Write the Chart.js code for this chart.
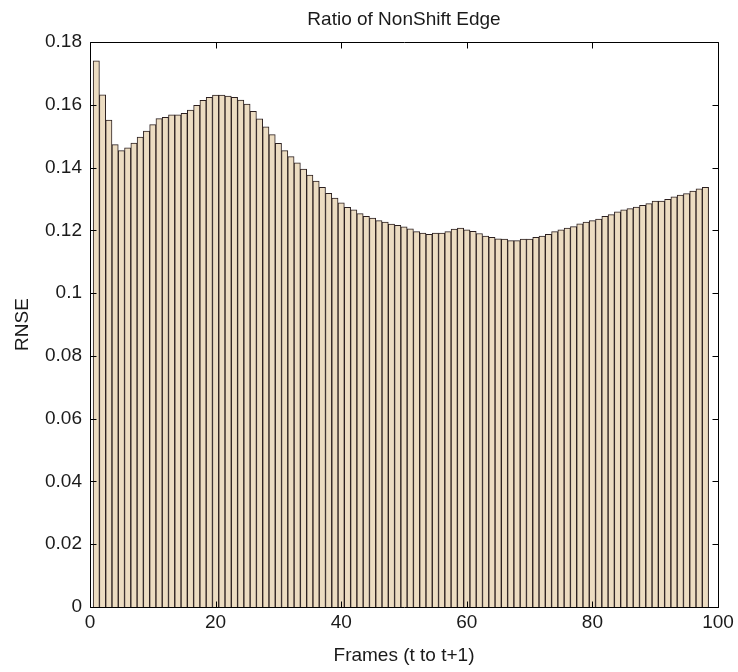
<!DOCTYPE html>
<html>
<head>
<meta charset="utf-8">
<script src="https://cdn.jsdelivr.net/npm/chart.js@4/dist/chart.umd.min.js"></script>
<style>
  html, body { margin: 0; padding: 0; background: #ffffff; }
  #c { display: block; }
</style>
</head>
<body>
<canvas id="c" width="738" height="672"></canvas>
<script>
const chartTitle = 'Ratio of NonShift Edge';
const xAxisTitle = 'Frames (t to t+1)';
const yAxisTitle = 'RNSE';

const frames = [
  1, 2, 3, 4, 5, 6, 7, 8, 9, 10,
  11, 12, 13, 14, 15, 16, 17, 18, 19, 20,
  21, 22, 23, 24, 25, 26, 27, 28, 29, 30,
  31, 32, 33, 34, 35, 36, 37, 38, 39, 40,
  41, 42, 43, 44, 45, 46, 47, 48, 49, 50,
  51, 52, 53, 54, 55, 56, 57, 58, 59, 60,
  61, 62, 63, 64, 65, 66, 67, 68, 69, 70,
  71, 72, 73, 74, 75, 76, 77, 78, 79, 80,
  81, 82, 83, 84, 85, 86, 87, 88, 89, 90,
  91, 92, 93, 94, 95, 96, 97, 98
];

const rnse = [
  0.1740, 0.1632, 0.1551, 0.1473, 0.1454, 0.1463, 0.1478, 0.1497, 0.1516, 0.1537,
  0.1556, 0.1560, 0.1568, 0.1568, 0.1573, 0.1583, 0.1598, 0.1614, 0.1624, 0.1631,
  0.1631, 0.1628, 0.1624, 0.1615, 0.1602, 0.1579, 0.1555, 0.1530, 0.1505, 0.1477,
  0.1454, 0.1435, 0.1415, 0.1395, 0.1376, 0.1357, 0.1337, 0.1318, 0.1303, 0.1288,
  0.1273, 0.1265, 0.1253, 0.1245, 0.1239, 0.1231, 0.1226, 0.1220, 0.1216, 0.1211,
  0.1205, 0.1196, 0.1191, 0.1187, 0.1191, 0.1191, 0.1196, 0.1204, 0.1207, 0.1202,
  0.1197, 0.1190, 0.1182, 0.1178, 0.1173, 0.1172, 0.1167, 0.1167, 0.1172, 0.1172,
  0.1178, 0.1182, 0.1187, 0.1196, 0.1202, 0.1207, 0.1212, 0.1221, 0.1226, 0.1231,
  0.1236, 0.1245, 0.1250, 0.1259, 0.1265, 0.1269, 0.1274, 0.1280, 0.1285, 0.1293,
  0.1293, 0.1299, 0.1307, 0.1312, 0.1317, 0.1325, 0.1332, 0.1337
];

const xTickValues = [0, 20, 40, 60, 80, 100];
const xTickLabels = ['0', '20', '40', '60', '80', '100'];
const yTickValues = [0, 0.02, 0.04, 0.06, 0.08, 0.1, 0.12, 0.14, 0.16, 0.18];
const yTickLabels = ['0', '0.02', '0.04', '0.06', '0.08', '0.1', '0.12', '0.14', '0.16', '0.18'];

const FONT = "'Liberation Sans', Arial, sans-serif";
const TEXT = '#1a1a1a';
const FSIZE = 19;

function labelFor(values, labels, v) {
  let best = 0, bd = Infinity;
  values.forEach((t, i) => { const d = Math.abs(t - v); if (d < bd) { bd = d; best = i; } });
  return bd < 1e-6 ? labels[best] : '';
}

const boxAndTicks = {
  id: 'boxAndTicks',
  afterDatasetsDraw(chart) {
    const { ctx, chartArea: a, scales } = chart;
    const L = Math.round(a.left) + 0.5, R = Math.round(a.right) + 0.5;
    const T = Math.round(a.top) + 0.5, B = Math.round(a.bottom) + 0.5;
    const len = 6;
    ctx.save();
    ctx.strokeStyle = '#000000';
    ctx.lineWidth = 1;
    ctx.beginPath();
    ctx.rect(L, T, R - L, B - T);
    ctx.stroke();
    ctx.beginPath();
    xTickValues.forEach(v => {
      const px = Math.round(scales.x.getPixelForValue(v)) + 0.5;
      ctx.moveTo(px, B); ctx.lineTo(px, B - len);
      ctx.moveTo(px, T); ctx.lineTo(px, T + len);
    });
    yTickValues.forEach(v => {
      const py = Math.round(scales.y.getPixelForValue(v)) + 0.5;
      ctx.moveTo(L, py); ctx.lineTo(L + len, py);
      ctx.moveTo(R, py); ctx.lineTo(R - len, py);
    });
    ctx.stroke();
    // chart title, centred over the plot area as in the reference
    ctx.fillStyle = TEXT;
    ctx.font = FSIZE + 'px ' + FONT;
    ctx.textAlign = 'center';
    ctx.textBaseline = 'middle';
    ctx.fillText(chartTitle, (a.left + a.right) / 2, 20);
    ctx.restore();
  }
};

new Chart(document.getElementById('c'), {
  type: 'bar',
  data: {
    datasets: [{
      data: frames.map((f, i) => ({ x: f, y: rnse[i] })),
      backgroundColor: '#ecdcc1',
      borderColor: '#2b1f1f',
      borderWidth: 1,
      borderSkipped: 'bottom',
      barPercentage: 1.0,
      categoryPercentage: 1.0
    }]
  },
  options: {
    responsive: false,
    animation: false,
    devicePixelRatio: 1,
    layout: { padding: { left: 0, right: 20, top: 42, bottom: 0 } },
    plugins: {
      legend: { display: false },
      tooltip: { enabled: false },
      title: { display: false }
    },
    scales: {
      x: {
        type: 'linear',
        min: 0,
        max: 100,
        offset: false,
        grid: { display: false, drawTicks: false },
        border: { display: false },
        afterBuildTicks: s => { s.ticks = xTickValues.map(v => ({ value: v })); },
        afterFit: s => { s.height = 65; },
        ticks: {
          padding: 4,
          maxRotation: 0,
          autoSkip: false,
          color: TEXT,
          font: { family: FONT, size: FSIZE },
          callback: v => labelFor(xTickValues, xTickLabels, v)
        },
        title: {
          display: true,
          text: xAxisTitle,
          color: TEXT,
          font: { family: FONT, size: FSIZE, lineHeight: 1.2 },
          padding: { top: 0, bottom: 5 }
        }
      },
      y: {
        type: 'linear',
        min: 0,
        max: 0.18,
        grid: { display: false, drawTicks: false },
        border: { display: false },
        afterBuildTicks: s => { s.ticks = yTickValues.map(v => ({ value: v })); },
        afterFit: s => { s.width = 90; },
        ticks: {
          padding: 8,
          autoSkip: false,
          color: TEXT,
          font: { family: FONT, size: FSIZE },
          callback: v => labelFor(yTickValues, yTickLabels, v)
        },
        title: {
          display: true,
          text: yAxisTitle,
          color: TEXT,
          font: { family: FONT, size: FSIZE, lineHeight: 1.2 },
          padding: { top: 11, bottom: 0 }
        }
      }
    }
  },
  plugins: [boxAndTicks]
});
</script>
</body>
</html>
